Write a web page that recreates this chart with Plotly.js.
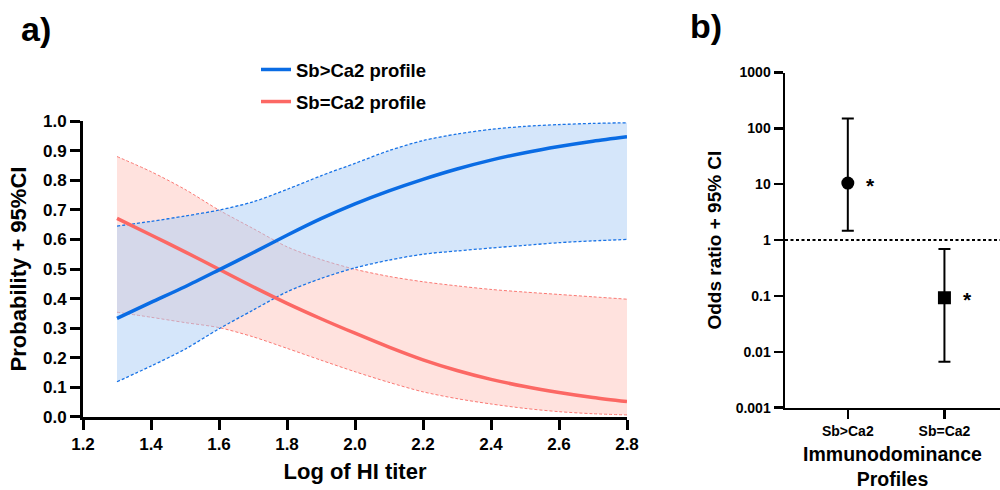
<!DOCTYPE html>
<html>
<head>
<meta charset="utf-8">
<script src="https://cdn.plot.ly/plotly-3.0.1.min.js"></script>
<style>html,body{margin:0;padding:0;background:#fff;}#chart{width:1000px;height:490px;}</style>
</head>
<body>
<div id="chart"></div>
<script>
// ---- Panel a) data (read from the picture) ----
var titer = [1.3, 1.4, 1.5, 1.6, 1.7, 1.8, 1.9, 2.0, 2.1, 2.2, 2.3, 2.4, 2.5, 2.6, 2.7, 2.8];
var sbGtProb  = [0.333, 0.387, 0.440, 0.497, 0.555, 0.614, 0.670, 0.720, 0.764, 0.803, 0.838, 0.868, 0.893, 0.914, 0.932, 0.947];
var sbGtUpper = [0.645, 0.661, 0.679, 0.699, 0.727, 0.769, 0.815, 0.857, 0.900, 0.934, 0.956, 0.972, 0.982, 0.988, 0.992, 0.994];
var sbGtLower = [0.119, 0.172, 0.229, 0.298, 0.361, 0.423, 0.468, 0.504, 0.530, 0.550, 0.561, 0.571, 0.580, 0.589, 0.595, 0.600];
var sbEqProb  = [0.671, 0.615, 0.558, 0.499, 0.440, 0.384, 0.332, 0.283, 0.236, 0.193, 0.157, 0.127, 0.103, 0.083, 0.066, 0.052];
var sbEqUpper = [0.880, 0.829, 0.769, 0.699, 0.637, 0.575, 0.532, 0.499, 0.475, 0.457, 0.443, 0.431, 0.422, 0.414, 0.406, 0.398];
var sbEqLower = [0.354, 0.337, 0.319, 0.302, 0.271, 0.232, 0.192, 0.153, 0.117, 0.085, 0.062, 0.044, 0.029, 0.018, 0.011, 0.007];
var seriesNames = ['Sb>Ca2 profile', 'Sb=Ca2 profile'];
var xTickVals = [1.2, 1.4, 1.6, 1.8, 2.0, 2.2, 2.4, 2.6, 2.8];
var xTickText = ['1.2', '1.4', '1.6', '1.8', '2.0', '2.2', '2.4', '2.6', '2.8'];
var yTickVals = [0, 0.1, 0.2, 0.3, 0.4, 0.5, 0.6, 0.7, 0.8, 0.9, 1.0];
var yTickText = ['0.0', '0.1', '0.2', '0.3', '0.4', '0.5', '0.6', '0.7', '0.8', '0.9', '1.0'];

// ---- Panel b) data ----
var profiles  = ['Sb>Ca2', 'Sb=Ca2'];
var oddsRatio = [10.5, 0.0925];
var orUpper   = [151, 0.69];
var orLower   = [1.47, 0.00667];
var sigMarks  = ['*', '*'];
var orTickVals = [0.001, 0.01, 0.1, 1, 10, 100, 1000];
var orTickText = ['0.001', '0.01', '0.1', '1', '10', '100', '1000'];
var refLine = 1;

var FONT = 'Liberation Sans, Arial, Helvetica, sans-serif';
var BLUE = 'rgb(10,108,228)';
var RED = 'rgb(252,104,100)';

var errPlus = oddsRatio.map(function (v, i) { return orUpper[i] - v; });
var errMinus = oddsRatio.map(function (v, i) { return v - orLower[i]; });

var traces = [
  // red CI band
  {x: titer, y: sbEqUpper, type: 'scatter', mode: 'lines', showlegend: false, hoverinfo: 'skip',
   line: {color: 'rgb(250,120,115)', width: 1, dash: '3px,2px', shape: 'spline', smoothing: 0.8}, xaxis: 'x', yaxis: 'y'},
  {x: titer, y: sbEqLower, type: 'scatter', mode: 'lines', showlegend: false, hoverinfo: 'skip',
   fill: 'tonexty', fillcolor: 'rgba(255,140,125,0.25)',
   line: {color: 'rgb(250,120,115)', width: 1, dash: '3px,2px', shape: 'spline', smoothing: 0.8}, xaxis: 'x', yaxis: 'y'},
  // blue CI band
  {x: titer, y: sbGtUpper, type: 'scatter', mode: 'lines', showlegend: false, hoverinfo: 'skip',
   line: {color: 'rgb(25,115,230)', width: 1.3, dash: '3px,2px', shape: 'spline', smoothing: 0.8}, xaxis: 'x', yaxis: 'y'},
  {x: titer, y: sbGtLower, type: 'scatter', mode: 'lines', showlegend: false, hoverinfo: 'skip',
   fill: 'tonexty', fillcolor: 'rgba(171,205,245,0.5)',
   line: {color: 'rgb(25,115,230)', width: 1.3, dash: '3px,2px', shape: 'spline', smoothing: 0.8}, xaxis: 'x', yaxis: 'y'},
  // main lines
  {x: titer, y: sbEqProb, type: 'scatter', mode: 'lines', name: seriesNames[1], legendrank: 2,
   legendgroup: 'eq', line: {color: RED, width: 3.5, shape: 'spline', smoothing: 0.8}, xaxis: 'x', yaxis: 'y'},
  {x: titer, y: sbGtProb, type: 'scatter', mode: 'lines', name: seriesNames[0], legendrank: 1,
   legendgroup: 'gt', line: {color: BLUE, width: 3.5, shape: 'spline', smoothing: 0.8}, xaxis: 'x', yaxis: 'y'},
  // odds ratios
  {x: profiles, y: oddsRatio, type: 'scatter', mode: 'markers', showlegend: false,
   marker: {symbol: ['circle', 'square'], size: 13, color: 'black'},
   error_y: {type: 'data', symmetric: false, array: errPlus, arrayminus: errMinus,
             color: 'black', thickness: 2, width: 6},
   xaxis: 'x2', yaxis: 'y2'}
];

var axisFont = {family: FONT, size: 17, color: 'black', weight: 'bold'};
var layout = {
  width: 1000, height: 490,
  margin: {l: 0, r: 0, t: 0, b: 0},
  paper_bgcolor: 'white', plot_bgcolor: 'white',
  font: {family: FONT, color: 'black'},
  showlegend: true,
  legend: {x: 0.256, xanchor: 'left', y: 0.896, yanchor: 'top', tracegroupgap: 5, itemwidth: 30,
           bgcolor: 'rgba(0,0,0,0)', font: {family: FONT, size: 18.5, color: 'black', weight: 'bold'}},
  xaxis: {domain: [0.083, 0.627], range: [1.2, 2.8], tickvals: xTickVals, ticktext: xTickText,
          showline: true, linewidth: 3, linecolor: 'black', ticks: 'outside', ticklen: 10, tickwidth: 3,
          tickcolor: 'black', showgrid: false, zeroline: false, tickfont: axisFont,
          title: {text: 'Log of HI titer', standoff: 11, font: {family: FONT, size: 22, color: 'black', weight: 'bold'}},
          anchor: 'y', fixedrange: true},
  yaxis: {domain: [0.149, 0.753], range: [0, 1], tickvals: yTickVals, ticktext: yTickText,
          showline: true, linewidth: 3, linecolor: 'black', ticks: 'outside', ticklen: 10, tickwidth: 3,
          tickcolor: 'black', showgrid: false, zeroline: false, tickfont: axisFont,
          title: {text: 'Probability + 95%CI', standoff: 11, font: {family: FONT, size: 22, color: 'black', weight: 'bold'}},
          anchor: 'x', fixedrange: true},
  xaxis2: {domain: [0.785, 1.0], type: 'category', range: [-0.65, 1.575],
           showline: true, linewidth: 2.5, linecolor: 'black', ticks: 'outside', ticklen: 9, tickwidth: 2.5,
           tickcolor: 'black', showgrid: false, zeroline: false,
           tickfont: {family: FONT, size: 14, color: 'black', weight: 'bold'},
           title: {text: 'Immunodominance<br>Profiles', standoff: 11, font: {family: FONT, size: 19.5, color: 'black', weight: 'bold'}},
           anchor: 'y2', fixedrange: true},
  yaxis2: {domain: [0.168, 0.852], type: 'log', range: [-3, 3], tickvals: orTickVals, ticktext: orTickText,
           showline: true, linewidth: 2.5, linecolor: 'black', ticks: 'outside', ticklen: 9, tickwidth: 2.5,
           tickcolor: 'black', showgrid: false, zeroline: false,
           tickfont: {family: FONT, size: 14, color: 'black', weight: 'bold'},
           title: {text: 'Odds ratio + 95% CI', standoff: 9, font: {family: FONT, size: 19, color: 'black', weight: 'bold'}},
           anchor: 'x2', fixedrange: true},
  shapes: [
    {type: 'line', xref: 'x2 domain', yref: 'y2', x0: 0, x1: 1, y0: refLine, y1: refLine,
     line: {color: 'black', width: 2, dash: '3px,2.5px'}}
  ],
  annotations: [
    {text: 'a)', xref: 'paper', yref: 'paper', x: 0.036, y: 1 - 29 / 490, xanchor: 'center', yanchor: 'middle',
     showarrow: false, font: {family: FONT, size: 34, color: 'black', weight: 'bold'}},
    {text: 'b)', xref: 'paper', yref: 'paper', x: 0.7055, y: 1 - 26 / 490, xanchor: 'center', yanchor: 'middle',
     showarrow: false, font: {family: FONT, size: 34, color: 'black', weight: 'bold'}}
  ]
};
profiles.forEach(function (p, i) {
  layout.annotations.push({text: sigMarks[i], xref: 'x2', yref: 'y2', x: i, y: Math.log10(oddsRatio[i]),
    xshift: 23, yshift: -2, showarrow: false, font: {family: FONT, size: 21, color: 'black', weight: 'bold'}});
});

Plotly.newPlot('chart', traces, layout, {displayModeBar: false, staticPlot: true});
</script>
</body>
</html>
